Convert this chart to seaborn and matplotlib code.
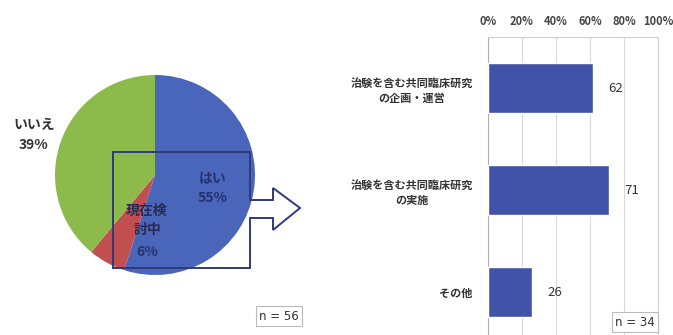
import matplotlib
matplotlib.use("Agg")
import matplotlib.pyplot as plt
import seaborn as sns
import pandas as pd
from matplotlib.patches import Polygon

# ---- data ----
pie_labels = ["はい", "現在検討中", "いいえ"]
pie_values = [55, 6, 39]
pie_colors = ["#4a66bb", "#c24f4f", "#8cbb4c"]

bar_categories = ["治験を含む共同臨床研究\nの企画・運営", "治験を含む共同臨床研究\nの実施", "その他"]
bar_values = [62, 71, 26]
x_ticks = [0, 20, 40, 60, 80, 100]
x_tick_labels = ["0%", "20%", "40%", "60%", "80%", "100%"]
n_pie = "n = 56"
n_bar = "n = 34"

sns.set_style("white")
plt.rcParams["font.family"] = ["Noto Sans CJK JP", "DejaVu Sans"]

W, H = 673, 335
fig = plt.figure(figsize=(W / 100, H / 100), dpi=100)

def fx(px):
    return px / W

def fy(py):
    return 1 - py / H

# ---- pie ----
axp = fig.add_axes([fx(55), fy(275), 200 / W, 200 / H])
axp.pie(pie_values, colors=pie_colors, startangle=90, counterclock=False,
        wedgeprops=dict(linewidth=0))
axp.set_xlim(-1, 1)
axp.set_ylim(-1, 1)
axp.set_aspect("equal")
axp.axis("off")

# overlay axes in pixel coordinates
ov = fig.add_axes([0, 0, 1, 1], zorder=5)
ov.set_xlim(0, W)
ov.set_ylim(H, 0)
ov.axis("off")
ov.patch.set_alpha(0)

pts = [(113, 152), (250, 152), (250, 200), (273, 200), (273, 188), (300, 208),
       (273, 230), (273, 218), (250, 218), (250, 268), (113, 268)]
ov.add_patch(Polygon(pts, closed=True, fill=False, edgecolor="#2f3a7a", linewidth=1.4))

txt_dark = "#333333"
navy = "#263170"
ov.text(34, 125, "いいえ", ha="center", va="center", fontsize=10, fontweight="bold", color=txt_dark)
ov.text(34, 145, "39%", ha="center", va="center", fontsize=10, fontweight="bold", color=txt_dark)
ov.text(213, 178, "はい", ha="center", va="center", fontsize=10, fontweight="bold", color=navy)
ov.text(213, 198, "55%", ha="center", va="center", fontsize=10, fontweight="bold", color=navy)
ov.text(147, 211, "現在検", ha="center", va="center", fontsize=10, fontweight="bold", color="#2a2a50")
ov.text(147, 230, "討中", ha="center", va="center", fontsize=10, fontweight="bold", color="#2a2a50")
ov.text(147, 252, "6%", ha="center", va="center", fontsize=10, fontweight="bold", color=navy)

ov.text(279, 316, n_pie, ha="center", va="center", fontsize=8.5, color=txt_dark,
        family=["DejaVu Sans"],
        bbox=dict(boxstyle="square,pad=0.3", facecolor="white", edgecolor="#bbbbbb", linewidth=0.8))
ov.text(635, 322, n_bar, ha="center", va="center", fontsize=8.5, color=txt_dark,
        family=["DejaVu Sans"],
        bbox=dict(boxstyle="square,pad=0.3", facecolor="white", edgecolor="#bbbbbb", linewidth=0.8))

# ---- bar chart ----
axb = fig.add_axes([fx(488), fy(343), 170 / W, 306 / H])
df = pd.DataFrame({"cat": bar_categories, "val": bar_values})
sns.barplot(data=df, y="cat", x="val", orient="h", color="#4153a8", width=0.49,
            saturation=1, ax=axb, zorder=3)
axb.set_xlim(0, 100)
axb.set_ylim(2.5, -0.5)
axb.set_xticks(x_ticks)
axb.set_xticklabels(x_tick_labels)
axb.xaxis.tick_top()
axb.tick_params(axis="x", length=0, pad=6.5, labelsize=8, labelcolor="#444444")
axb.tick_params(axis="y", length=0, pad=11, labelsize=8, labelcolor=txt_dark)
for lab in axb.get_xticklabels():
    lab.set_fontweight("semibold")
for lab in axb.get_yticklabels():
    lab.set_fontweight("bold")
    lab.set_multialignment("center")
axb.set_xlabel("")
axb.set_ylabel("")
axb.grid(axis="x", color="#d9d9d9", linewidth=0.8, zorder=0)
axb.grid(axis="y", visible=False)
for s in ["top", "right", "bottom"]:
    axb.spines[s].set_color("#d0d0d0")
    axb.spines[s].set_linewidth(0.8)
axb.spines["left"].set_color("#b0b0b0")
axb.spines["left"].set_linewidth(0.8)
for c in axb.containers:
    axb.bar_label(c, fmt="%d", padding=11, fontsize=9.5, color=txt_dark)

fig.savefig("out.png", dpi=100)
